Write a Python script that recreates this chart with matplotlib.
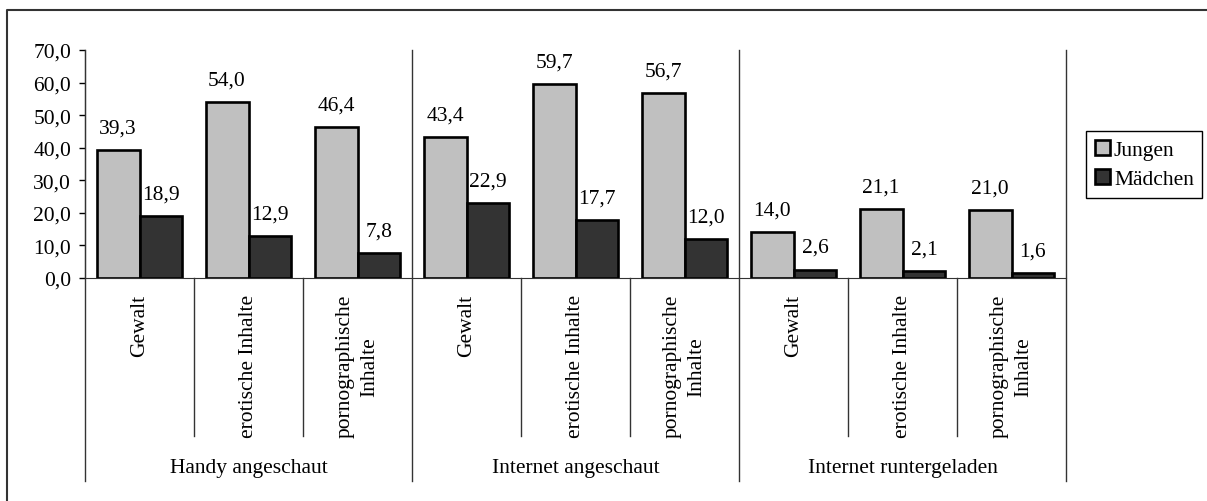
import matplotlib
matplotlib.use("Agg")
import matplotlib.pyplot as plt
from matplotlib.lines import Line2D
import numpy as np

plt.rcParams['font.family'] = ['Liberation Serif', 'DejaVu Serif']
plt.rcParams['font.size'] = 15.5

# data
groups = ['Handy angeschaut', 'Internet angeschaut', 'Internet runtergeladen']
categories = ['Gewalt', 'erotische Inhalte', 'pornographische\nInhalte'] * 3
jungen = [39.3, 54.0, 46.4, 43.4, 59.7, 56.7, 14.0, 21.1, 21.0]
maedchen = [18.9, 12.9, 7.8, 22.9, 17.7, 12.0, 2.6, 2.1, 1.6]
yticks = [0, 10, 20, 30, 40, 50, 60, 70]

def fmt(v):
    return f"{v:.1f}".replace('.', ',')

W, H = 1207, 502
fig = plt.figure(figsize=(W / 100, H / 100), dpi=100)
ax = fig.add_axes([85 / W, (H - 279) / H, (1066 - 85) / W, (279 - 51) / H])

x = np.arange(len(categories)) + 0.5
bw = 0.394
b1 = ax.bar(x - bw / 2, jungen, bw, color='#C0C0C0', edgecolor='black', linewidth=1.9, label='Jungen')
b2 = ax.bar(x + bw / 2, maedchen, bw, color='#333333', edgecolor='black', linewidth=1.9, label='Mädchen')

for bars, vals in ((b1, jungen), (b2, maedchen)):
    for r, v in zip(bars, vals):
        ax.annotate(fmt(v), (r.get_x() + r.get_width() / 2, v), xytext=(0, 9),
                    textcoords='offset points', ha='center', va='bottom')

ax.set_xlim(0, len(categories))
ax.set_ylim(0, 70)
ax.set_yticks(yticks)
ax.set_yticklabels([fmt(t) for t in yticks])
ax.set_xticks([])
ax.tick_params(axis='y', direction='out', length=4, width=1, pad=6, colors='black')
for s in ('top', 'right'):
    ax.spines[s].set_visible(False)
ax.spines['left'].set_color('#333333')
ax.spines['bottom'].set_color('#333333')

tr = ax.get_xaxis_transform()
# group separators (through plot and below axis)
for gx in range(0, len(categories) + 1, 3):
    ax.plot([gx, gx], [-0.89, 1.0], transform=tr, color='#333333', lw=1, clip_on=False)
# inner category separators
for cx in range(1, len(categories)):
    if cx % 3:
        ax.plot([cx, cx], [-0.693, 0], transform=tr, color='#333333', lw=1, clip_on=False)

for xi, lab in zip(x, categories):
    ax.text(xi, -0.07, lab, transform=tr, rotation=90, ha='center', va='top',
            multialignment='center', linespacing=1.35)
for gi, g in enumerate(groups):
    ax.text(gi * 3 + 1.5, -0.83, g, transform=tr, ha='center', va='center')

leg = fig.legend(loc='upper left', bbox_to_anchor=(1086 / W, 1 - 132 / H),
                 borderaxespad=0, fancybox=False, edgecolor='black', framealpha=1,
                 handlelength=0.7, handleheight=0.7, handletextpad=0.2,
                 labelspacing=0.45, borderpad=0.4)
leg.get_frame().set_linewidth(1)

# outer chart border (only top and left are visible in the crop)
fig.add_artist(Line2D([7 / W, 7 / W, 1], [0, 1 - 11 / H, 1 - 11 / H],
                      transform=fig.transFigure, color='#333333', lw=1.5))

fig.savefig('out.png', dpi=100)
